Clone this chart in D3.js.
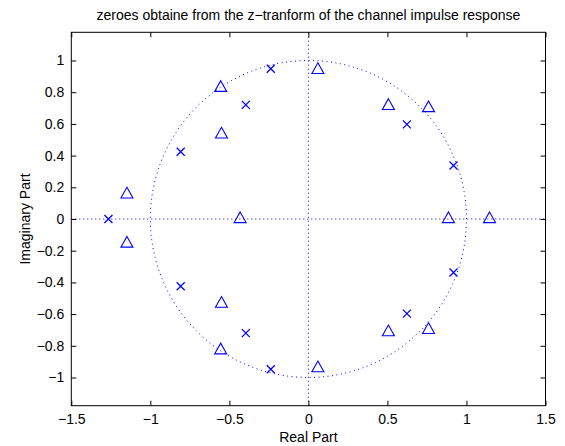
<!DOCTYPE html>
<html lang="en">
<head>
    <meta charset="UTF-8">
    <title>zplane</title>
    <style>
        body { margin: 0; background: #fff; }
        text { font-family: "Liberation Sans", Arial, sans-serif; }
    </style>
</head>
<body>
<svg id="chart"></svg>
<script src="https://d3js.org/d3.v7.min.js"></script>
<script>
    // triangle markers (real, imag)
    const triRe = [-0.555, -0.555, -0.55, -0.55, -1.148, -1.148, -0.432, 0.06, 0.06, 0.506, 0.506, 0.76, 0.76, 0.886, 1.146];
    const triIm = [0.828, -0.828, 0.534, -0.534, 0.155, -0.155, 0, 0.941, -0.941, 0.714, -0.714, 0.70, -0.70, 0, 0];

    // x markers (real, imag)
    const crossRe = [-1.265, -0.808, -0.808, -0.396, -0.396, -0.238, -0.238, 0.623, 0.623, 0.918, 0.918];
    const crossIm = [0, 0.424, -0.424, 0.72, -0.72, 0.948, -0.948, 0.597, -0.597, 0.338, -0.338];

    const xTicks = [-1.5, -1, -0.5, 0, 0.5, 1, 1.5];
    const yTicks = [-1, -0.8, -0.6, -0.4, -0.2, 0, 0.2, 0.4, 0.6, 0.8, 1];

    const width = 565, height = 446;
    const m = { left: 71.3, right: 545.5, top: 32.3, bottom: 405.7 };
    const blue = "#0000ff";
    const fs = 14;

    const svg = d3.select("#chart").attr("width", width).attr("height", height);

    const x = d3.scaleLinear().domain([-1.5, 1.5]).range([m.left, m.right]);
    const y = d3.scaleLinear().domain([-1.178, 1.178]).range([m.bottom, m.top]);

    const fmt = d => (Math.abs(d) < 1e-9 ? "0" : String(+d.toFixed(1))).replace("-", "\u2212");

    // unit circle, dotted
    const circ = d3.range(0, 361, 1).map(a => [Math.cos(a * Math.PI / 180), Math.sin(a * Math.PI / 180)]);
    svg.append("path")
        .datum(circ)
        .attr("fill", "none")
        .attr("stroke", blue)
        .attr("stroke-width", 1)
        .attr("stroke-dasharray", "1,3.5")
        .attr("d", d3.line().x(d => x(d[0])).y(d => y(d[1])));

    // real and imaginary axes, dotted
    svg.append("line")
        .attr("x1", x(-1.5)).attr("x2", x(1.5))
        .attr("y1", y(0)).attr("y2", y(0))
        .attr("stroke", blue).attr("stroke-dasharray", "1,3");
    svg.append("line")
        .attr("x1", x(0)).attr("x2", x(0))
        .attr("y1", y(-1.178)).attr("y2", y(1.178))
        .attr("stroke", blue).attr("stroke-dasharray", "1,3");

    // axes with inward ticks on all four sides
    const tick = 5;
    svg.append("g")
        .attr("transform", `translate(0,${m.bottom})`)
        .call(d3.axisBottom(x).tickValues(xTicks).tickFormat(fmt).tickSizeInner(-tick).tickSizeOuter(0).tickPadding(8));
    svg.append("g")
        .attr("transform", `translate(0,${m.top})`)
        .call(d3.axisTop(x).tickValues(xTicks).tickFormat("").tickSizeInner(-tick).tickSizeOuter(0));
    svg.append("g")
        .attr("transform", `translate(${m.left},0)`)
        .call(d3.axisLeft(y).tickValues(yTicks).tickFormat(fmt).tickSizeInner(-tick).tickSizeOuter(0).tickPadding(7));
    svg.append("g")
        .attr("transform", `translate(${m.right},0)`)
        .call(d3.axisRight(y).tickValues(yTicks).tickFormat("").tickSizeInner(-tick).tickSizeOuter(0));

    svg.selectAll(".domain").remove();
    svg.selectAll(".tick text").attr("font-size", fs).attr("fill", "#000")
        .attr("font-family", "Liberation Sans, Arial, sans-serif");

    svg.append("rect")
        .attr("x", m.left).attr("y", m.top)
        .attr("width", m.right - m.left).attr("height", m.bottom - m.top)
        .attr("fill", "none").attr("stroke", "#000").attr("stroke-width", 1);

    // triangles, centred on centroid
    const tri = triRe.map((r, i) => ({ re: r, im: triIm[i] }));
    svg.append("g").selectAll("path")
        .data(tri)
        .join("path")
        .attr("transform", d => `translate(${x(d.re)},${y(d.im)})`)
        .attr("d", "M0,-7.1L6,3.6L-6,3.6Z")
        .attr("fill", "none")
        .attr("stroke", blue)
        .attr("stroke-width", 1.1);

    // crosses
    const cross = crossRe.map((r, i) => ({ re: r, im: crossIm[i] }));
    svg.append("g").selectAll("path")
        .data(cross)
        .join("path")
        .attr("transform", d => `translate(${x(d.re)},${y(d.im)})`)
        .attr("d", "M-4,-4L4,4M-4,4L4,-4")
        .attr("fill", "none")
        .attr("stroke", blue)
        .attr("stroke-width", 1.3);

    // labels
    svg.append("text")
        .attr("x", (m.left + m.right) / 2).attr("y", 20)
        .attr("text-anchor", "middle").attr("font-size", fs)
        .text("zeroes obtaine from the z\u2212tranform of the channel impulse response");
    svg.append("text")
        .attr("x", (m.left + m.right) / 2).attr("y", 442)
        .attr("text-anchor", "middle").attr("font-size", fs)
        .text("Real Part");
    svg.append("text")
        .attr("transform", `translate(30,${y(0)}) rotate(-90)`)
        .attr("text-anchor", "middle").attr("font-size", fs)
        .text("Imaginary Part");
</script>
</body>
</html>
